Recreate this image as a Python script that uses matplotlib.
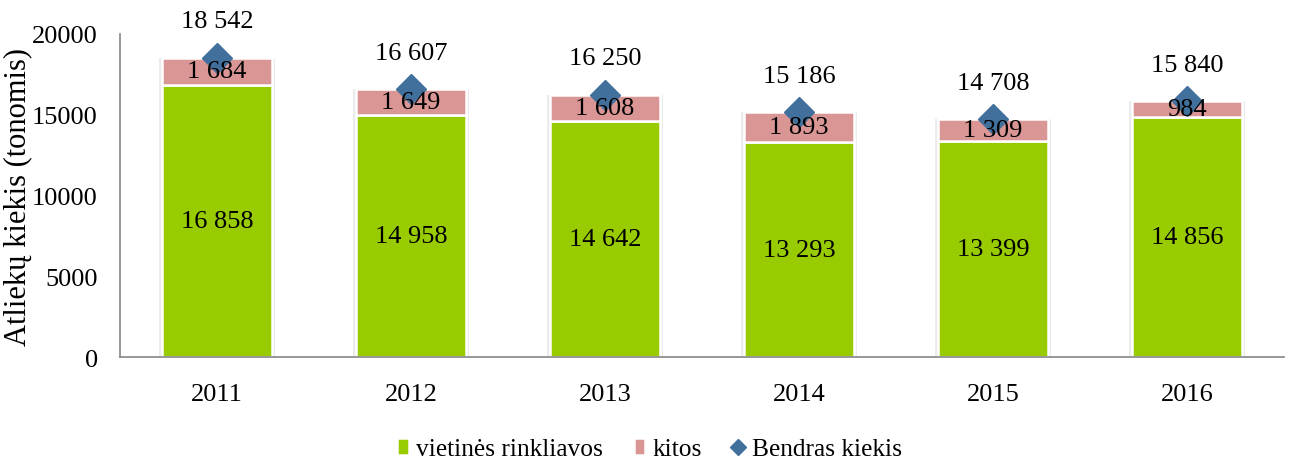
import matplotlib
matplotlib.use('Agg')
import matplotlib.pyplot as plt
import numpy as np

years = ['2011', '2012', '2013', '2014', '2015', '2016']
vietines = [16858, 14958, 14642, 13293, 13399, 14856]
kitos = [1684, 1649, 1608, 1893, 1309, 984]
bendras = [18542, 16607, 16250, 15186, 14708, 15840]


def fmt(v):
    return f'{v:,}'.replace(',', ' ')


plt.rcParams['font.family'] = ['Liberation Serif', 'DejaVu Serif']

fig = plt.figure(figsize=(12.91, 4.64), dpi=100)
ax = fig.add_axes([0.093, 0.2284, 0.9016, 0.6962])

x = np.arange(len(years))
w = 0.57
green = '#99CC00'
pink = '#DA9694'
blue = '#41709C'
fs = 19

# faint shadow behind bars
ax.bar(x, np.array(bendras) + 150, w + 0.025, bottom=-150, color='#ebebeb',
       zorder=1)
b1 = ax.bar(x, vietines, w, color=green, edgecolor='white', linewidth=1.8,
            zorder=2, label='vietinės rinkliavos')
b2 = ax.bar(x, kitos, w, bottom=vietines, color=pink, edgecolor='white',
            linewidth=1.8, zorder=2, label='kitos')
ln, = ax.plot(x, bendras, linestyle='none', marker='D', markersize=15,
              color=blue, zorder=4, label='Bendras kiekis')

for i in range(len(years)):
    ax.text(x[i], vietines[i] / 2, fmt(vietines[i]), ha='center', va='center',
            fontsize=fs, zorder=5)
    ax.text(x[i], vietines[i] + kitos[i] / 2, fmt(kitos[i]), ha='center',
            va='center', fontsize=fs, zorder=5)
    ax.annotate(fmt(bendras[i]), (x[i], bendras[i]), xytext=(0, 26),
                textcoords='offset points', ha='center', va='center',
                fontsize=fs, zorder=5)

ax.set_xlim(-0.5, len(years) - 0.5)
ax.set_ylim(0, 20000)
ax.set_yticks([0, 5000, 10000, 15000, 20000])
ax.set_xticks(x)
ax.set_xticklabels(years)
ax.tick_params(axis='both', length=0, labelsize=fs)
ax.tick_params(axis='x', pad=19)
ax.tick_params(axis='y', pad=16)
ax.set_ylabel('Atliekų kiekis (tonomis)', fontsize=22, va='center')
ax.yaxis.set_label_coords(-0.088, 0.5)

for s in ['top', 'right']:
    ax.spines[s].set_visible(False)
for s in ['left', 'bottom']:
    ax.spines[s].set_color('#868686')
    ax.spines[s].set_linewidth(1.2)

leg = fig.legend(handles=[b1, b2, ln], loc='center', bbox_to_anchor=(0.503, 0.03),
                 ncol=3, frameon=False, fontsize=18.3, handlelength=0.45,
                 handletextpad=0.3, columnspacing=1.2)
for h in leg.legend_handles:
    if hasattr(h, 'set_markersize'):
        h.set_markersize(8)

fig.savefig('out.png', dpi=100)
